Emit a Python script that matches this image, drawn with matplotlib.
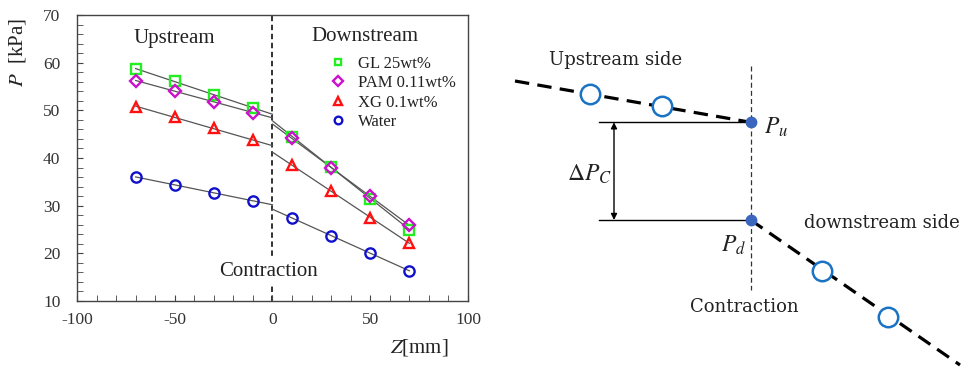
import numpy as np
import matplotlib
matplotlib.use("Agg")
import matplotlib.pyplot as plt
from matplotlib.ticker import MultipleLocator

# ---------------- data (left chart) ----------------
z_up = [-70, -50, -30, -10]
z_down = [10, 30, 50, 70]
series_names = ["GL 25wt%", "PAM 0.11wt%", "XG 0.1wt%", "Water"]
gl_vals = [58.7, 56.1, 53.3, 50.5, 44.5, 38.1, 31.5, 25.0]
pam_vals = [56.2, 54.1, 51.8, 49.5, 44.2, 37.8, 32.0, 25.9]
xg_vals = [50.8, 48.6, 46.2, 43.7, 38.5, 33.1, 27.4, 22.2]
water_vals = [36.0, 34.4, 32.7, 31.0, 27.4, 23.7, 20.1, 16.3]
x_ticks = [-100, -50, 0, 50, 100]
y_ticks = [10, 20, 30, 40, 50, 60, 70]

# ---------------- schematic (right panel) ----------------
up_line_x = [515, 750.7]
up_line_y = [81, 122.3]
down_line_x = [750.7, 960]
down_line_y = [220, 365]
up_circ_x = [590, 662.3]
up_circ_y = [94.3, 106]
down_circ_x = [821.7, 888.3]
down_circ_y = [270.7, 316.7]
pu_xy = (750.7, 122.3)
pd_xy = (750.7, 220)

plt.rcParams['font.family'] = ['Liberation Serif', 'DejaVu Serif']
plt.rcParams['mathtext.fontset'] = 'stix'
plt.rcParams['axes.unicode_minus'] = False

fig = plt.figure(figsize=(9.7, 3.7), dpi=100)

# ---------- left chart ----------
ax = fig.add_axes([77/970, 1-301/370, (468-77)/970, (301-15)/370])
ax.set_xlim(-100, 100)
ax.set_ylim(10, 70)

styles = [
    dict(marker='s', color='#22ee22', ms=7.0, lms=5.0),
    dict(marker='D', color='#cc11cc', ms=6.4, lms=4.6),
    dict(marker='^', color='#ff1111', ms=7.6, lms=5.5),
    dict(marker='o', color='#1111cc', ms=7.4, lms=5.5),
]
all_vals = [gl_vals, pam_vals, xg_vals, water_vals]
z_all = z_up + z_down
for name, vals, st in zip(series_names, all_vals, styles):
    up = np.array(vals[:4]); dn = np.array(vals[4:])
    pu = np.polyfit(z_up, up, 1)
    pd = np.polyfit(z_down, dn, 1)
    xu = np.array([-70, 0]); xd = np.array([0, 70])
    ax.plot(xu, np.polyval(pu, xu), color='#555555', lw=0.9, zorder=2)
    ax.plot(xd, np.polyval(pd, xd), color='#555555', lw=0.9, zorder=2)
    ax.plot(z_all, vals, linestyle='none', marker=st['marker'], ms=st['ms'],
            mfc='none', mec=st['color'], mew=1.7, zorder=3)
    ax.plot([], [], linestyle='none', marker=st['marker'], ms=st['lms'], mfc='none',
            mec=st['color'], mew=1.7, label=name)

ax.axvline(0, color='#222222', lw=1.3, ls=(0, (3, 2)), zorder=1)
ax.text(-2.3, 16.1, "Contraction", ha='center', va='center', fontsize=15,
        color='#222222', bbox=dict(facecolor='white', edgecolor='none', pad=3), zorder=4)
ax.text(-50, 65, "Upstream", ha='center', va='center', fontsize=15, color='#222222')
ax.text(47, 65.4, "Downstream", ha='center', va='center', fontsize=15, color='#222222')

ax.set_xticks(x_ticks)
ax.set_yticks(y_ticks)
ax.xaxis.set_minor_locator(MultipleLocator(10))
ax.yaxis.set_minor_locator(MultipleLocator(2))
ax.tick_params(which='both', direction='in', top=False, right=False,
               labelsize=12.5, labelcolor='#333333', color='#444444')
ax.tick_params(which='major', length=4)
ax.tick_params(which='minor', length=4)
ax.tick_params(axis='y', which='major', pad=12)
ax.tick_params(axis='x', which='major', pad=8)
for s in ax.spines.values():
    s.set_color('#444444'); s.set_linewidth(1.0)

ax.set_ylabel(r"$P$  [kPa]", fontsize=15, color='#222222')
ax.yaxis.set_label_coords(-0.125, 0.87)
ax.set_xlabel(r"$Z$[mm]", fontsize=15, color='#222222')
ax.xaxis.set_label_coords(0.875, -0.125)

leg = ax.legend(loc='upper left', bbox_to_anchor=(0.643, 0.857), frameon=False,
                fontsize=12, handletextpad=0.55, labelspacing=0.2, handlelength=1.2,
                borderaxespad=0, borderpad=0)
for t in leg.get_texts():
    t.set_color('#222222')

# ---------- right schematic ----------
ax2 = fig.add_axes([0.5, 0, 0.5, 1])
ax2.set_xlim(485, 970)
ax2.set_ylim(370, 0)
ax2.axis('off')

ax2.plot(up_line_x, up_line_y, color='black', lw=2.3, ls=(0, (4.5, 2.6)), zorder=2)
ax2.plot(down_line_x, down_line_y, color='black', lw=2.3, ls=(0, (4.5, 2.6)), zorder=2)
ax2.plot(up_circ_x + down_circ_x, up_circ_y + down_circ_y, linestyle='none', marker='o',
         ms=14, mfc='white', mec='#1a72c4', mew=1.8, zorder=3)
ax2.plot([pu_xy[0], pd_xy[0]], [pu_xy[1], pd_xy[1]], linestyle='none', marker='o',
         ms=7.5, color='#3a66c0', zorder=4)
ax2.plot([750.7, 750.7], [65.7, 290], color='#333333', lw=0.9, ls=(0, (4, 2.5)), zorder=1)
ax2.plot([599.3, pu_xy[0]], [pu_xy[1], pu_xy[1]], color='black', lw=1.0)
ax2.plot([599.3, pd_xy[0]], [pd_xy[1], pd_xy[1]], color='black', lw=1.0)
ax2.annotate('', xy=(614, pu_xy[1]), xytext=(614, pd_xy[1]),
             arrowprops=dict(arrowstyle='<|-|>', color='black', lw=1.0,
                             mutation_scale=9, shrinkA=0, shrinkB=0))

sfont = ['DejaVu Serif']
ax2.text(549.3, 60, "Upstream side", ha='left', va='center', fontsize=13,
         family=sfont, color='#222222')
ax2.text(804, 223, "downstream side", ha='left', va='center', fontsize=13,
         family=sfont, color='#222222')
ax2.text(744, 307, "Contraction", ha='center', va='center', fontsize=13,
         family=sfont, color='#222222')
ax2.text(764, 127, r"$P_u$", ha='left', va='center', fontsize=17, color='#222222')
ax2.text(721, 245, r"$P_d$", ha='left', va='center', fontsize=17, color='#222222')
ax2.text(567, 174, r"$\Delta P_C$", ha='left', va='center', fontsize=17, color='#222222')

fig.savefig("out.png", dpi=100)
